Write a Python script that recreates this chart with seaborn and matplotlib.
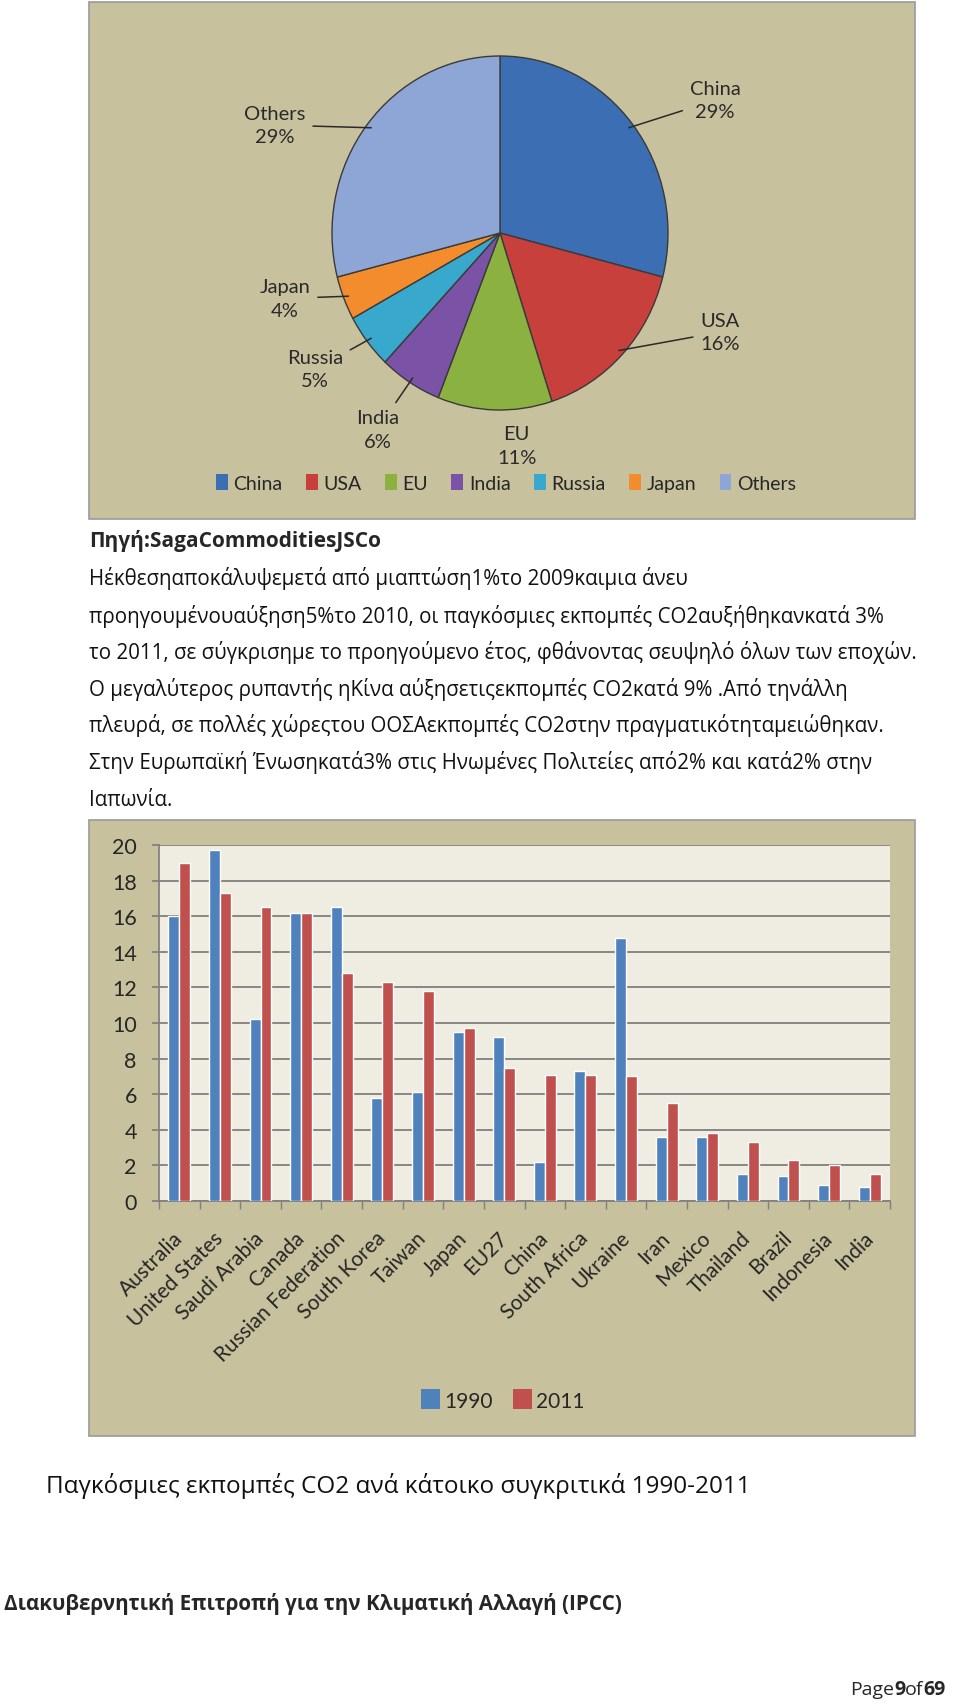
import matplotlib
matplotlib.use("Agg")
import matplotlib.pyplot as plt
import matplotlib.transforms as mtransforms
import seaborn as sns
import pandas as pd
import numpy as np
from matplotlib.patches import Rectangle

# Pie data: share of global CO2 emissions
pie_labels = ['China', 'USA', 'EU', 'India', 'Russia', 'Japan', 'Others']
pie_share = [29, 16, 11, 6, 5, 4, 29]
pie_colors = ['#3C6EB4', '#C8403C', '#8BB140', '#7A52A6', '#38A8CC', '#F38C2C', '#8EA6D6']

# Bar data: CO2 per capita 1990 vs 2011
countries = ['Australia', 'United States', 'Saudi Arabia', 'Canada', 'Russian Federation',
             'South Korea', 'Taiwan', 'Japan', 'EU27', 'China', 'South Africa', 'Ukraine',
             'Iran', 'Mexico', 'Thailand', 'Brazil', 'Indonesia', 'India']
co2_1990 = [16.0, 19.7, 10.2, 16.2, 16.5, 5.8, 6.1, 9.5, 9.2, 2.2, 7.3, 14.8,
            3.6, 3.6, 1.5, 1.4, 0.9, 0.8]
co2_2011 = [19.0, 17.3, 16.5, 16.2, 12.8, 12.3, 11.8, 9.7, 7.5, 7.1, 7.1, 7.0,
            5.5, 3.8, 3.3, 2.3, 2.0, 1.5]
years = ['1990', '2011']
bar_colors = ['#4F81BD', '#C0504D']

W, H = 960, 1706
PANEL = '#C8C19E'
PLOTBG = '#EFECE2'

sns.set_theme(style='white')
plt.rcParams['font.family'] = ['Open Sans', 'DejaVu Sans']

fig = plt.figure(figsize=(W / 100, H / 100), dpi=100)
fig.patch.set_facecolor('white')


def rect(x0, y0, x1, y1):
    # pixel box (top-left origin) -> figure fraction
    return [x0 / W, 1 - y1 / H, (x1 - x0) / W, (y1 - y0) / H]


# panel backgrounds
for (x0, y0, x1, y1) in [(89, 3, 915, 520), (89, 821, 915, 1437)]:
    fig.patches.append(Rectangle((x0 / W, 1 - y1 / H), (x1 - x0) / W, (y1 - y0) / H,
                                 transform=fig.transFigure, facecolor=PANEL,
                                 edgecolor='#9A9A9A', linewidth=1.2, zorder=-5))

# ---- pie chart ----
cx, cy, rx, ry = 500, 234, 168, 177
ax_pie = fig.add_axes(rect(cx - rx, cy - ry, cx + rx, cy + ry))
ax_pie.patch.set_alpha(0)
wedges, _ = ax_pie.pie(pie_share, colors=pie_colors, startangle=90, counterclock=False,
                       wedgeprops=dict(edgecolor='#3A3A3A', linewidth=1.0))
ax_pie.set_aspect('auto')
ax_pie.set_xlim(-1, 1)
ax_pie.set_ylim(-1, 1)
ax_pie.axis('off')

label_pos = {
    'China': (1.28, 0.75), 'USA': (1.31, -0.56), 'EU': (0.10, -1.20),
    'India': (-0.73, -1.11), 'Russia': (-1.10, -0.77), 'Japan': (-1.28, -0.37),
    'Others': (-1.34, 0.61),
}
for w, name, pct in zip(wedges, pie_labels, pie_share):
    ang = np.deg2rad((w.theta1 + w.theta2) / 2)
    ex, ey = 0.97 * np.cos(ang), 0.97 * np.sin(ang)
    tx, ty = label_pos[name]
    arrow = None if name == 'EU' else dict(arrowstyle='-', color='#2A2A2A', lw=1.1,
                                           shrinkA=3, shrinkB=0)
    ax_pie.annotate(f'{name}\n{pct}%', xy=(ex, ey), xytext=(tx, ty),
                    ha='center', va='center', fontsize=14.5, color='#2A2A2A',
                    family=['Lato', 'DejaVu Sans'], linespacing=1.45,
                    arrowprops=arrow, annotation_clip=False)

pie_handles = [Rectangle((0, 0), 1, 1, facecolor=c, edgecolor='none') for c in pie_colors]
fig.legend(pie_handles, pie_labels, ncol=7, loc='center', bbox_to_anchor=(506 / W, 1 - 484 / H),
           frameon=False, handlelength=0.6, handleheight=0.9,
           handletextpad=0.3, columnspacing=1.2, prop={'family': ['Lato', 'DejaVu Sans'], 'size': 14})

# ---- text block ----
body = ['Ηέκθεσηαποκάλυψεμετά από μιαπτώση1%το 2009καιμια άνευ',
        'προηγουμένουαύξηση5%το 2010, οι παγκόσμιες εκπομπές CO2αυξήθηκανκατά 3%',
        'το 2011, σε σύγκρισημε το προηγούμενο έτος, φθάνοντας σευψηλό όλων των εποχών.',
        'Ο μεγαλύτερος ρυπαντής ηΚίνα αύξησετιςεκπομπές CO2κατά 9% .Από τηνάλλη',
        'πλευρά, σε πολλές χώρεςτου ΟΟΣΑεκπομπές CO2στην πραγματικότηταμειώθηκαν.',
        'Στην Ευρωπαϊκή Ένωσηκατά3% στις Ηνωμένες Πολιτείες από2% και κατά2% στην',
        'Ιαπωνία.']
fig.text(89 / W, 1 - 541 / H, 'Πηγή:SagaCommoditiesJSCo', fontsize=15, weight='bold',
         va='center')
line_y = [579, 617, 653, 690, 726, 763, 801]
for yy, line in zip(line_y, body):
    fig.text(89 / W, 1 - yy / H, line, fontsize=14.8, va='center', color='#111111')

# ---- bar chart ----
df = pd.DataFrame({
    'country': countries * 2,
    'value': co2_1990 + co2_2011,
    'year': [years[0]] * len(countries) + [years[1]] * len(countries),
})
ax = fig.add_axes(rect(159, 846, 890, 1202))
ax.set_facecolor(PLOTBG)
sns.barplot(data=df, x='country', y='value', hue='year', palette=bar_colors,
            width=0.54, gap=0, ax=ax, saturation=1, legend=False, zorder=3)
ax.set_ylim(0, 20)
ax.set_xlim(-0.5, len(countries) - 0.5)
ax.set_yticks(range(0, 21, 2))
ax.yaxis.grid(True, color='#767676', linewidth=1.2, zorder=0)
ax.set_axisbelow(True)
ax.set_xlabel('')
ax.set_ylabel('')
for s in ['top', 'right']:
    ax.spines[s].set_visible(False)
ax.spines['left'].set_color('#7F7F7F')
ax.spines['bottom'].set_color('#7F7F7F')
ax.tick_params(axis='y', length=5, color='#7F7F7F', direction='out', left=True,
               labelsize=15.5, pad=11)
ax.set_xticks(range(len(countries)))
ax.set_xticklabels(countries, rotation=45, ha='right', rotation_mode='anchor',
                   fontsize=15, family=['Lato', 'DejaVu Sans'])
ax.tick_params(axis='x', which='major', length=0, pad=19)
ax.set_xticks(np.arange(-0.5, len(countries), 1), minor=True)
ax.tick_params(axis='x', which='minor', length=6, color='#7F7F7F', direction='out', bottom=True)
shift = mtransforms.ScaledTranslation(-7 / 100, 0, fig.dpi_scale_trans)
for lab in ax.get_xticklabels():
    lab.set_transform(lab.get_transform() + shift)
for lab in ax.get_yticklabels():
    lab.set_family(['Lato', 'DejaVu Sans'])

bar_handles = [Rectangle((0, 0), 1, 1, facecolor=c, edgecolor='none') for c in bar_colors]
fig.legend(bar_handles, years, ncol=2, loc='center', bbox_to_anchor=(503 / W, 1 - 1401 / H),
           frameon=False, handlelength=0.9, handleheight=1.1, handletextpad=0.2,
           columnspacing=1.0, prop={'family': ['Lato', 'DejaVu Sans'], 'size': 15})

# ---- captions ----
fig.text(46 / W, 1 - 1486 / H, 'Παγκόσμιες εκπομπές CO2 ανά κάτοικο συγκριτικά 1990-2011',
         fontsize=17.5, va='center', color='#111111')
fig.text(4 / W, 1 - 1604 / H, 'Διακυβερνητική Επιτροπή για την Κλιματική Αλλαγή (IPCC)',
         fontsize=14.9, weight='bold', va='center')

# page footer, pieces chained one after another
prev = fig.text(850 / W, 1 - 1690 / H, 'Page', fontsize=14, va='center', ha='left')
for piece, wt in [('9', 'bold'), ('of', 'normal'), ('69', 'bold')]:
    prev = ax.annotate(piece, xy=(1, 0.5), xycoords=prev, va='center', ha='left',
                       fontsize=14, weight=wt, annotation_clip=False)

fig.savefig('out.png', dpi=100, facecolor='white')
